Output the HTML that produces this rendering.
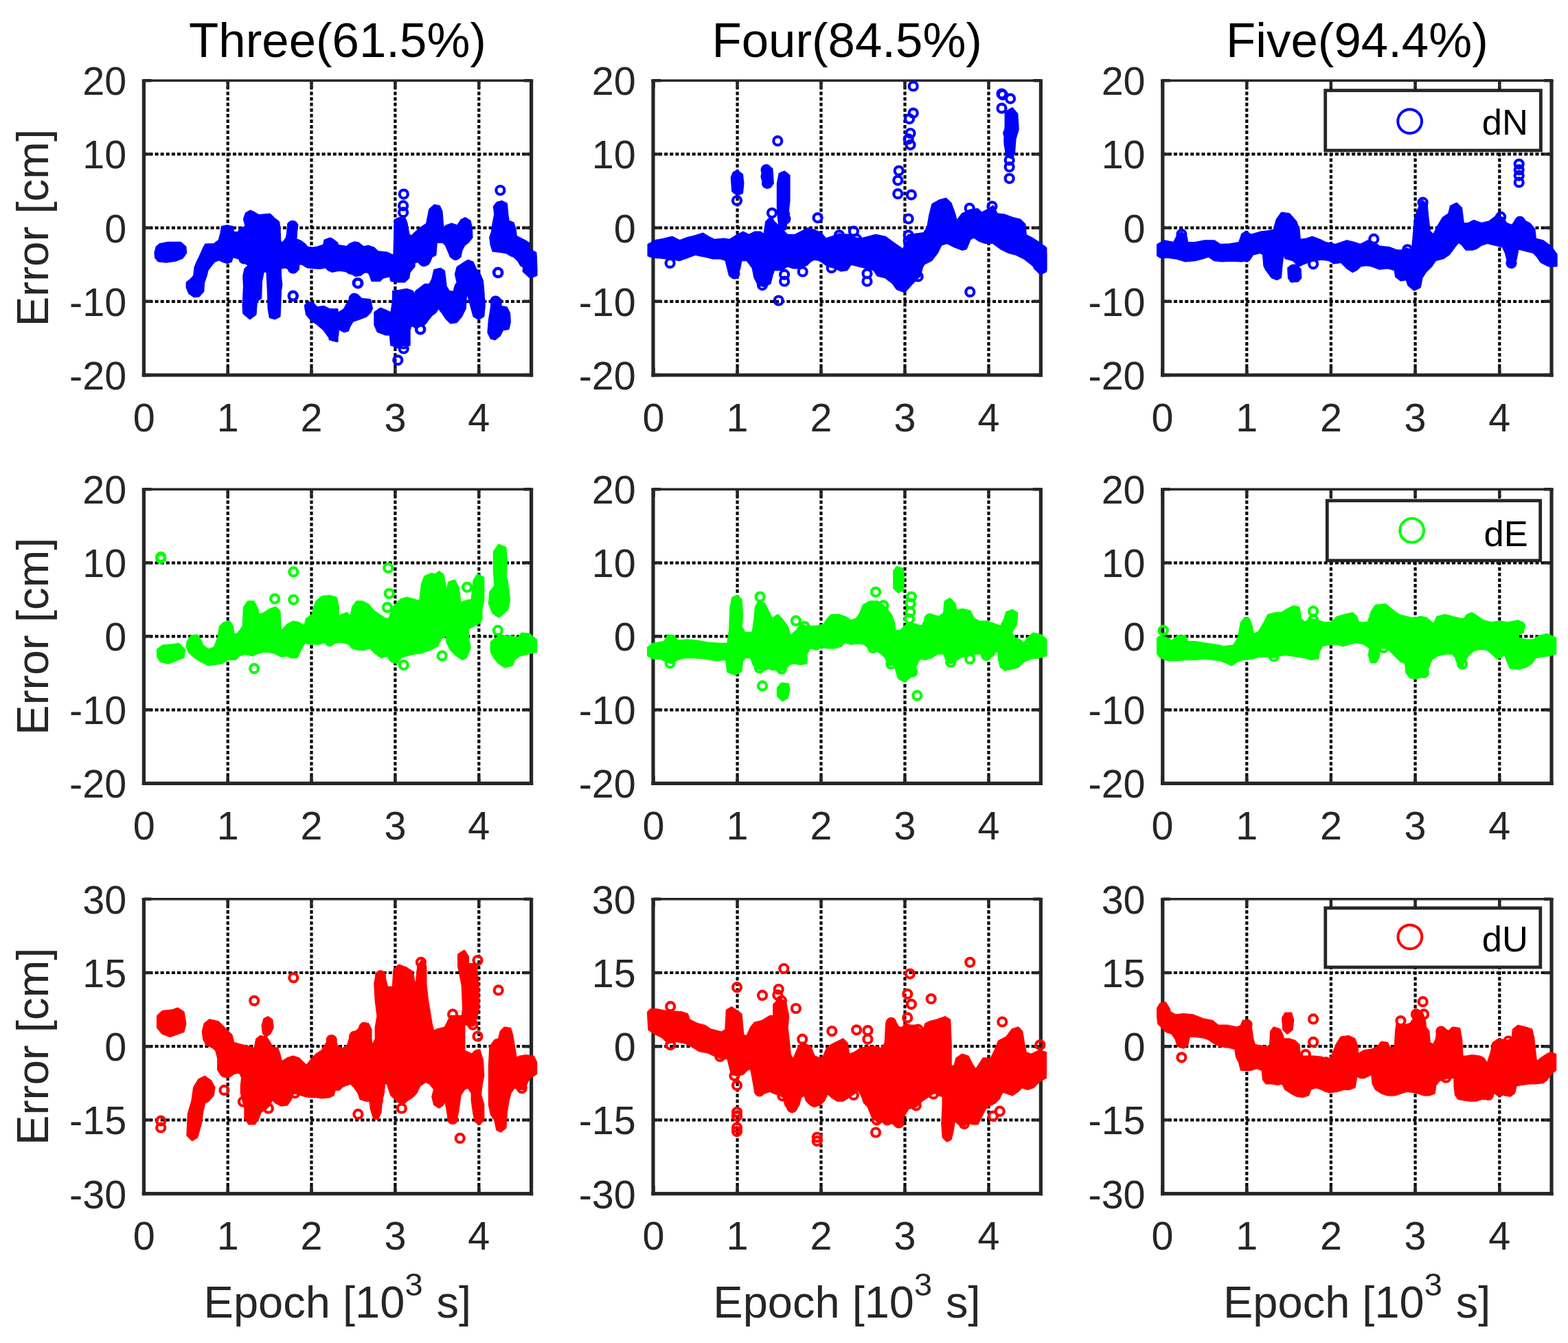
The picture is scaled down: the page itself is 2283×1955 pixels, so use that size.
<!DOCTYPE html>
<html><head><meta charset="utf-8"><title>Error plots</title>
<style>html,body{margin:0;padding:0;background:#fff;width:2283px;height:1955px;overflow:hidden}
svg text{font-family:'Liberation Sans', Arial, Helvetica, sans-serif}</style></head>
<body>
<svg width="2283" height="1955" viewBox="0 0 2283 1955" style="position:absolute;left:0;top:0">
<rect x="0" y="0" width="2283" height="1955" fill="#ffffff"/>
<clipPath id="clip00"><rect x="200.4" y="108.2" width="582.2" height="446.8"/></clipPath>
<path d="M331.7 117.2V546.0 M453.5 117.2V546.0 M575.4 117.2V546.0 M697.3 117.2V546.0 M209.4 438.8H773.6 M209.4 331.6H773.6 M209.4 224.4H773.6" stroke="#000" stroke-width="4.2" stroke-dasharray="5 3.1" fill="none"/>
<path d="M209.8 546.0v-11M209.8 117.2v11M331.7 546.0v-11M331.7 117.2v11M453.5 546.0v-11M453.5 117.2v11M575.4 546.0v-11M575.4 117.2v11M697.3 546.0v-11M697.3 117.2v11M209.4 546.0h11M773.6 546.0h-11M209.4 438.8h11M773.6 438.8h-11M209.4 331.6h11M773.6 331.6h-11M209.4 224.4h11M773.6 224.4h-11M209.4 117.2h11M773.6 117.2h-11" stroke="#262626" stroke-width="4.4" fill="none"/>
<path d="M206.8 117.2H776.2" stroke="#262626" stroke-width="3.6"/>
<path d="M206.8 546.0H776.2" stroke="#262626" stroke-width="5.2"/>
<path d="M209.4 115.4V548.6M773.6 115.4V548.6" stroke="#262626" stroke-width="5.2"/>
<g clip-path="url(#clip00)" fill="#0000ff" stroke="#0000ff">
<path d="M225.9,368.0 228.0,359.6 232.9,355.4 244.8,353.3 263.0,353.3 270.0,359.6 270.7,368.0 265.8,375.0 256.0,379.2 242.0,381.3 230.8,379.9 226.6,375.0Z" stroke-width="3" stroke-linejoin="round"/>
<path d="M272.1,411.4 278.4,406.5 282.6,401.6 284.0,389.0 287.5,380.6 291.0,373.6 296.6,361.0 299.4,356.1 312.0,355.4 319.0,349.8 321.8,340.0 323.2,330.2 330.2,328.8 338.6,330.2 340.0,338.6 347.0,338.6 349.8,333.0 358.2,330.2 355.4,319.0 358.2,310.6 364.5,307.1 369.3,309.2 376.3,313.4 393.1,312.0 398.7,317.6 405.7,323.2 407.1,333.0 407.8,348.4 408.5,354.0 412.7,352.6 416.9,347.0 418.3,341.4 419.7,326.0 426.7,323.9 433.0,327.4 431.6,337.2 430.9,348.4 437.9,351.2 443.5,355.4 447.7,360.3 456.1,361.0 463.1,359.6 471.5,356.8 472.9,349.8 478.5,347.7 485.5,349.8 491.1,354.0 491.1,393.2 484.1,395.3 478.5,393.2 474.3,389.0 465.9,390.4 454.7,389.7 447.7,389.0 440.7,384.8 435.1,383.4 434.4,391.8 427.4,395.3 420.4,391.1 415.5,389.0 408.5,390.4 408.5,401.6 409.9,414.2 408.5,424.0 407.8,444.9 407.1,460.3 400.1,463.8 393.1,461.7 391.0,449.1 390.3,424.0 388.9,396.0 384.7,394.6 383.3,396.0 380.5,410.0 379.8,433.8 373.5,437.9 372.1,457.5 363.8,463.8 354.7,456.1 354.0,444.9 355.4,417.0 354.7,401.6 356.8,391.8 362.4,386.2 354.0,380.6 348.4,376.4 338.6,373.6 336.5,380.6 330.9,382.7 324.6,380.6 319.0,377.8 312.0,380.6 306.4,387.6 302.2,393.2 300.1,401.6 296.6,411.4 295.9,424.0 289.6,431.0 282.6,431.7 275.6,426.8 272.1,418.4Z" stroke-width="3" stroke-linejoin="round"/>
<path d="M444.2,444.9 449.1,440.0 456.1,442.1 461.7,447.7 471.5,446.3 479.9,450.5 491.1,450.5 491.1,496.7 484.1,495.3 478.5,489.7 471.5,479.9 461.7,471.5 453.3,465.9 446.3,457.5Z" stroke-width="3" stroke-linejoin="round"/>
<circle cx="426.7" cy="431.0" r="6.0" fill="none" stroke-width="4.2"/>
<circle cx="426.7" cy="390.4" r="6.0" fill="none" stroke-width="4.2"/>
<circle cx="355.4" cy="376.4" r="6.0" fill="none" stroke-width="4.2"/>
<circle cx="426.0" cy="328.8" r="6.0" fill="none" stroke-width="4.2"/>
<path d="M480.0,347.0 484.2,348.4 488.4,356.8 505.2,359.6 509.4,355.4 516.4,352.6 522.0,354.0 529.0,359.6 536.0,358.2 544.4,361.0 550.0,366.6 564.0,368.0 569.6,370.8 573.8,372.2 575.2,320.4 580.8,317.6 589.2,317.6 592.0,324.6 593.4,333.0 595.5,342.8 600.4,343.5 603.2,340.0 613.0,331.6 617.2,328.8 621.4,326.0 625.6,305.0 632.6,298.7 639.6,300.1 643.1,307.8 644.5,326.0 646.6,337.2 649.3,328.8 657.7,326.0 666.1,328.8 671.7,320.4 677.3,317.6 684.3,321.8 686.4,331.6 687.1,345.6 681.5,352.6 675.9,356.8 671.7,365.2 670.3,373.6 663.3,376.4 656.3,373.6 653.5,366.6 649.3,356.8 645.2,352.6 635.4,352.6 634.0,370.8 628.4,373.6 625.6,380.6 622.8,384.8 613.0,384.8 608.8,380.6 603.2,382.0 603.2,387.6 596.2,396.0 594.8,404.4 589.2,410.0 578.0,410.0 569.6,408.6 568.2,401.6 557.0,404.4 552.8,408.6 541.6,408.6 538.8,400.2 536.0,396.0 530.4,396.0 524.8,400.2 517.8,401.6 513.6,398.8 508.0,397.4 503.8,394.6 494.0,393.2 485.6,394.6 480.0,393.2Z" stroke-width="3" stroke-linejoin="round"/>
<path d="M716.5,337.2 717.9,326.0 720.7,312.0 719.3,300.8 723.5,295.2 730.5,293.1 737.5,296.6 738.9,312.0 740.3,321.8 747.3,324.6 750.1,333.0 751.5,344.2 759.9,348.4 765.5,351.2 770.0,354.0 770.0,390.4 765.5,390.4 758.5,386.2 754.3,379.2 748.7,373.6 744.5,372.2 737.5,368.0 729.1,366.6 717.9,365.2 715.1,356.8 713.7,345.6Z" stroke-width="3" stroke-linejoin="round"/>
<path d="M480.0,451.9 485.6,450.5 491.2,454.7 492.6,472.9 491.9,488.3 485.6,495.3 480.0,493.9Z" stroke-width="3" stroke-linejoin="round"/>
<path d="M494.0,454.7 501.0,450.5 508.0,437.9 512.2,431.0 520.6,429.6 526.2,435.2 538.8,436.6 541.6,449.1 538.8,454.7 533.2,460.3 522.0,464.5 513.6,467.3 509.4,474.3 506.6,481.3 501.0,482.7 495.4,479.9 492.6,472.9Z" stroke-width="3" stroke-linejoin="round"/>
<path d="M545.8,454.7 554.2,449.1 561.2,451.9 569.6,456.1 572.4,437.9 572.4,424.0 580.8,423.3 592.0,421.2 600.4,424.0 603.2,429.6 606.0,424.0 618.6,414.2 625.6,414.2 629.8,405.8 632.6,393.2 641.0,391.1 646.6,394.6 649.3,417.0 653.5,424.0 660.5,425.4 663.3,415.6 666.1,411.4 663.3,398.8 666.1,389.0 674.5,383.4 681.5,379.2 688.5,382.0 692.7,391.8 698.3,398.8 702.5,408.6 703.9,424.0 705.3,444.9 703.9,460.3 696.9,464.5 689.9,460.3 685.7,444.9 681.5,429.6 678.7,429.6 677.3,449.1 671.7,460.3 664.7,468.7 656.3,470.1 649.3,463.1 643.8,454.7 638.2,447.7 634.0,454.7 628.4,458.9 622.8,465.9 618.6,471.5 611.6,474.3 606.0,477.1 599.0,472.9 596.2,479.9 596.2,502.3 569.6,502.3 568.2,486.9 561.2,486.9 550.0,482.7 545.8,472.9Z" stroke-width="3" stroke-linejoin="round"/>
<path d="M712.3,465.9 715.1,449.1 716.5,436.6 722.1,432.4 729.1,436.6 729.1,446.3 737.5,447.7 741.7,456.1 742.4,468.7 740.3,478.5 731.9,479.9 727.7,488.3 720.7,493.9 715.1,492.5 710.9,484.1Z" stroke-width="3" stroke-linejoin="round"/>
<circle cx="728.4" cy="277.0" r="6.0" fill="none" stroke-width="4.2"/>
<circle cx="724.9" cy="396.7" r="6.0" fill="none" stroke-width="4.2"/>
<circle cx="587.8" cy="282.6" r="6.0" fill="none" stroke-width="4.2"/>
<circle cx="587.1" cy="299.4" r="6.0" fill="none" stroke-width="4.2"/>
<circle cx="587.1" cy="309.2" r="6.0" fill="none" stroke-width="4.2"/>
<circle cx="520.6" cy="412.1" r="6.0" fill="none" stroke-width="4.2"/>
<circle cx="663.3" cy="370.8" r="6.0" fill="none" stroke-width="4.2"/>
<circle cx="612.3" cy="479.2" r="6.0" fill="none" stroke-width="4.2"/>
<circle cx="721.4" cy="438.6" r="6.0" fill="none" stroke-width="4.2"/>
<circle cx="579.3" cy="524.3" r="6.0" fill="none" stroke-width="4.2"/>
<circle cx="587.7" cy="507.5" r="6.0" fill="none" stroke-width="4.2"/>
<circle cx="587.7" cy="500.5" r="6.0" fill="none" stroke-width="4.2"/>
<circle cx="577.9" cy="499.1" r="6.0" fill="none" stroke-width="4.2"/>
<circle cx="576.5" cy="487.9" r="6.0" fill="none" stroke-width="4.2"/>
<circle cx="577.9" cy="476.7" r="6.0" fill="none" stroke-width="4.2"/>
<circle cx="587.7" cy="482.3" r="6.0" fill="none" stroke-width="4.2"/>
<circle cx="426.7" cy="430.5" r="6.0" fill="none" stroke-width="4.2"/>
<circle cx="426.7" cy="388.5" r="6.0" fill="none" stroke-width="4.2"/>
<circle cx="355.4" cy="374.5" r="6.0" fill="none" stroke-width="4.2"/>
<circle cx="521.4" cy="412.3" r="6.0" fill="none" stroke-width="4.2"/>
<circle cx="515.8" cy="434.7" r="6.0" fill="none" stroke-width="4.2"/>
<circle cx="451.9" cy="447.3" r="6.0" fill="none" stroke-width="4.2"/>
<circle cx="612.0" cy="479.5" r="6.0" fill="none" stroke-width="4.2"/>
<circle cx="617.1" cy="380.1" r="6.0" fill="none" stroke-width="4.2"/>
<circle cx="663.3" cy="370.3" r="6.0" fill="none" stroke-width="4.2"/>
<circle cx="725.4" cy="396.9" r="6.0" fill="none" stroke-width="4.2"/>
<circle cx="722.1" cy="438.9" r="6.0" fill="none" stroke-width="4.2"/>
<path d="M765.0,360.0 780.0,368.0 782.0,400.0 772.0,404.0 762.0,395.0Z" stroke-width="3" stroke-linejoin="round"/>
</g>
<text x="184.2" y="567.0" font-size="57.5" fill="#262626" text-anchor="end">-20</text>
<text x="184.2" y="459.8" font-size="57.5" fill="#262626" text-anchor="end">-10</text>
<text x="184.2" y="352.6" font-size="57.5" fill="#262626" text-anchor="end">0</text>
<text x="184.2" y="245.4" font-size="57.5" fill="#262626" text-anchor="end">10</text>
<text x="184.2" y="138.2" font-size="57.5" fill="#262626" text-anchor="end">20</text>
<text x="209.8" y="627.6" font-size="57.5" fill="#262626" text-anchor="middle">0</text>
<text x="331.7" y="627.6" font-size="57.5" fill="#262626" text-anchor="middle">1</text>
<text x="453.5" y="627.6" font-size="57.5" fill="#262626" text-anchor="middle">2</text>
<text x="575.4" y="627.6" font-size="57.5" fill="#262626" text-anchor="middle">3</text>
<text x="697.3" y="627.6" font-size="57.5" fill="#262626" text-anchor="middle">4</text>
<clipPath id="clip01"><rect x="942.0" y="108.2" width="582.4000000000001" height="446.8"/></clipPath>
<path d="M1073.6 117.2V546.0 M1195.5 117.2V546.0 M1317.5 117.2V546.0 M1439.5 117.2V546.0 M951.0 438.8H1515.4 M951.0 331.6H1515.4 M951.0 224.4H1515.4" stroke="#000" stroke-width="4.2" stroke-dasharray="5 3.1" fill="none"/>
<path d="M951.6 546.0v-11M951.6 117.2v11M1073.6 546.0v-11M1073.6 117.2v11M1195.5 546.0v-11M1195.5 117.2v11M1317.5 546.0v-11M1317.5 117.2v11M1439.5 546.0v-11M1439.5 117.2v11M951.0 546.0h11M1515.4 546.0h-11M951.0 438.8h11M1515.4 438.8h-11M951.0 331.6h11M1515.4 331.6h-11M951.0 224.4h11M1515.4 224.4h-11M951.0 117.2h11M1515.4 117.2h-11" stroke="#262626" stroke-width="4.4" fill="none"/>
<path d="M948.4 117.2H1518.0" stroke="#262626" stroke-width="3.6"/>
<path d="M948.4 546.0H1518.0" stroke="#262626" stroke-width="5.2"/>
<path d="M951.0 115.4V548.6M1515.4 115.4V548.6" stroke="#262626" stroke-width="5.2"/>
<g clip-path="url(#clip01)" fill="#0000ff" stroke="#0000ff">
<path d="M944.8,356.3 953.2,350.7 967.2,347.9 978.4,345.1 989.6,350.7 1000.8,346.5 1012.0,343.7 1023.2,340.1 1031.6,345.1 1040.0,349.3 1054.0,347.9 1062.4,349.3 1073.6,342.3 1082.0,338.1 1090.4,342.3 1098.8,338.1 1107.2,338.1 1112.8,342.3 1115.6,322.7 1122.6,315.7 1126.7,322.7 1137.9,333.9 1146.3,342.3 1157.5,342.3 1168.7,336.7 1177.1,332.5 1185.5,335.3 1195.3,339.5 1202.3,347.9 1210.7,345.1 1221.9,340.9 1235.9,342.3 1244.3,346.5 1252.7,347.9 1263.9,345.1 1275.1,342.3 1289.1,345.1 1300.3,353.5 1314.3,363.3 1318.5,361.9 1322.7,342.3 1333.9,340.9 1345.1,339.5 1350.7,331.1 1353.5,314.3 1357.7,297.5 1367.5,292.0 1377.3,289.2 1384.3,296.1 1389.9,311.5 1392.7,322.7 1401.1,311.5 1412.3,305.9 1423.5,304.5 1429.1,310.1 1437.5,305.9 1445.9,300.3 1451.5,311.5 1462.7,312.9 1473.9,317.1 1485.1,319.9 1492.1,326.9 1493.5,342.3 1501.8,346.5 1513.0,353.5 1524.2,361.9 1524.2,392.7 1513.0,395.5 1501.8,384.3 1490.7,375.9 1479.5,370.3 1468.3,367.5 1457.1,361.9 1445.9,353.5 1434.7,353.5 1426.3,350.7 1417.9,345.1 1412.3,347.9 1406.7,361.9 1401.1,363.3 1389.9,359.1 1378.7,353.5 1370.3,356.3 1364.7,367.5 1356.3,378.7 1345.1,384.3 1342.3,389.9 1339.5,401.1 1328.3,412.3 1317.1,424.9 1305.9,420.7 1300.3,412.3 1289.1,403.9 1277.9,401.1 1272.3,392.7 1261.1,389.9 1249.9,387.1 1238.7,384.3 1233.1,392.7 1224.7,394.1 1216.3,389.9 1205.1,387.1 1193.9,378.7 1185.5,377.3 1179.9,380.1 1174.3,385.7 1163.1,389.9 1154.7,389.9 1146.3,387.1 1137.9,392.7 1126.7,392.7 1124.0,401.1 1121.2,412.3 1112.8,416.5 1104.4,415.1 1098.8,403.9 1096.0,389.9 1087.6,378.7 1079.2,378.7 1076.4,392.7 1070.8,401.1 1062.4,401.1 1059.6,389.9 1056.8,378.7 1048.4,375.9 1037.2,375.9 1026.0,373.1 1012.0,370.3 1000.8,374.5 989.6,378.7 981.2,377.3 970.0,375.9 956.0,374.5 946.2,373.1Z" stroke-width="3" stroke-linejoin="round"/>
<path d="M1132.3,266.8 1135.1,252.8 1142.1,250.0 1149.1,255.6 1149.1,292.0 1146.3,317.1 1143.5,333.9 1135.1,333.9 1132.3,305.9Z" stroke-width="3" stroke-linejoin="round"/>
<path d="M1065.2,258.4 1068.0,251.4 1073.6,248.6 1080.6,254.2 1082.0,266.8 1080.6,280.8 1073.6,283.6 1066.6,278.0Z" stroke-width="3" stroke-linejoin="round"/>
<path d="M1110.0,247.2 1115.6,241.6 1124.0,245.8 1125.4,266.8 1121.2,272.4 1112.8,271.0 1110.0,261.2Z" stroke-width="3" stroke-linejoin="round"/>
<path d="M1464.1,163.2 1473.9,157.6 1480.9,166.0 1482.3,188.4 1478.1,202.4 1476.7,222.0 1473.9,230.4 1465.5,227.6 1462.7,205.2 1464.1,182.8Z" stroke-width="3" stroke-linejoin="round"/>
<circle cx="1073.0" cy="275.2" r="6.0" fill="none" stroke-width="4.2"/>
<circle cx="1073.0" cy="292.0" r="6.0" fill="none" stroke-width="4.2"/>
<circle cx="1115.6" cy="247.2" r="6.0" fill="none" stroke-width="4.2"/>
<circle cx="1115.6" cy="257.0" r="6.0" fill="none" stroke-width="4.2"/>
<circle cx="1117.0" cy="266.8" r="6.0" fill="none" stroke-width="4.2"/>
<circle cx="1132.3" cy="205.2" r="6.0" fill="none" stroke-width="4.2"/>
<circle cx="1124.0" cy="310.1" r="6.0" fill="none" stroke-width="4.2"/>
<circle cx="1142.1" cy="311.5" r="6.0" fill="none" stroke-width="4.2"/>
<circle cx="1143.5" cy="318.5" r="6.0" fill="none" stroke-width="4.2"/>
<circle cx="1190.6" cy="317.1" r="6.0" fill="none" stroke-width="4.2"/>
<circle cx="1221.9" cy="342.3" r="6.0" fill="none" stroke-width="4.2"/>
<circle cx="1242.9" cy="336.7" r="6.0" fill="none" stroke-width="4.2"/>
<circle cx="1247.1" cy="347.9" r="6.0" fill="none" stroke-width="4.2"/>
<circle cx="975.6" cy="382.9" r="6.0" fill="none" stroke-width="4.2"/>
<circle cx="1069.4" cy="398.3" r="6.0" fill="none" stroke-width="4.2"/>
<circle cx="1110.0" cy="415.1" r="6.0" fill="none" stroke-width="4.2"/>
<circle cx="1142.1" cy="399.7" r="6.0" fill="none" stroke-width="4.2"/>
<circle cx="1142.1" cy="409.5" r="6.0" fill="none" stroke-width="4.2"/>
<circle cx="1168.7" cy="395.5" r="6.0" fill="none" stroke-width="4.2"/>
<circle cx="1133.7" cy="437.5" r="6.0" fill="none" stroke-width="4.2"/>
<circle cx="1262.5" cy="398.3" r="6.0" fill="none" stroke-width="4.2"/>
<circle cx="1262.5" cy="409.5" r="6.0" fill="none" stroke-width="4.2"/>
<circle cx="1336.7" cy="402.5" r="6.0" fill="none" stroke-width="4.2"/>
<circle cx="1210.7" cy="389.9" r="6.0" fill="none" stroke-width="4.2"/>
<circle cx="1412.3" cy="424.9" r="6.0" fill="none" stroke-width="4.2"/>
<circle cx="1411.7" cy="303.1" r="6.0" fill="none" stroke-width="4.2"/>
<circle cx="1444.5" cy="300.3" r="6.0" fill="none" stroke-width="4.2"/>
<circle cx="1322.7" cy="318.5" r="6.0" fill="none" stroke-width="4.2"/>
<circle cx="1322.7" cy="342.3" r="6.0" fill="none" stroke-width="4.2"/>
<circle cx="1322.7" cy="350.7" r="6.0" fill="none" stroke-width="4.2"/>
<circle cx="1322.7" cy="361.9" r="6.0" fill="none" stroke-width="4.2"/>
<circle cx="1308.7" cy="248.6" r="6.0" fill="none" stroke-width="4.2"/>
<circle cx="1307.3" cy="262.6" r="6.0" fill="none" stroke-width="4.2"/>
<circle cx="1307.3" cy="282.2" r="6.0" fill="none" stroke-width="4.2"/>
<circle cx="1326.9" cy="283.6" r="6.0" fill="none" stroke-width="4.2"/>
<circle cx="1325.5" cy="210.8" r="6.0" fill="none" stroke-width="4.2"/>
<circle cx="1325.5" cy="194.0" r="6.0" fill="none" stroke-width="4.2"/>
<circle cx="1324.1" cy="173.0" r="6.0" fill="none" stroke-width="4.2"/>
<circle cx="1329.7" cy="164.6" r="6.0" fill="none" stroke-width="4.2"/>
<circle cx="1329.7" cy="125.4" r="6.0" fill="none" stroke-width="4.2"/>
<circle cx="1322.7" cy="202.4" r="6.0" fill="none" stroke-width="4.2"/>
<circle cx="1458.5" cy="136.6" r="6.0" fill="none" stroke-width="4.2"/>
<circle cx="1459.9" cy="138.0" r="6.0" fill="none" stroke-width="4.2"/>
<circle cx="1471.1" cy="143.6" r="6.0" fill="none" stroke-width="4.2"/>
<circle cx="1458.5" cy="157.6" r="6.0" fill="none" stroke-width="4.2"/>
<circle cx="1469.7" cy="233.2" r="6.0" fill="none" stroke-width="4.2"/>
<circle cx="1469.7" cy="243.0" r="6.0" fill="none" stroke-width="4.2"/>
<circle cx="1469.7" cy="259.8" r="6.0" fill="none" stroke-width="4.2"/>
<circle cx="1469.7" cy="210.8" r="6.0" fill="none" stroke-width="4.2"/>
<circle cx="1468.3" cy="194.0" r="6.0" fill="none" stroke-width="4.2"/>
<path d="M1508.0,352.0 1520.0,360.0 1524.0,372.0 1523.0,395.0 1515.0,399.0 1506.0,390.0Z" stroke-width="3" stroke-linejoin="round"/>
<path d="M944.0,356.0 956.0,350.0 956.0,375.0 944.0,372.0Z" stroke-width="3" stroke-linejoin="round"/>
</g>
<text x="925.8" y="567.0" font-size="57.5" fill="#262626" text-anchor="end">-20</text>
<text x="925.8" y="459.8" font-size="57.5" fill="#262626" text-anchor="end">-10</text>
<text x="925.8" y="352.6" font-size="57.5" fill="#262626" text-anchor="end">0</text>
<text x="925.8" y="245.4" font-size="57.5" fill="#262626" text-anchor="end">10</text>
<text x="925.8" y="138.2" font-size="57.5" fill="#262626" text-anchor="end">20</text>
<text x="951.6" y="627.6" font-size="57.5" fill="#262626" text-anchor="middle">0</text>
<text x="1073.6" y="627.6" font-size="57.5" fill="#262626" text-anchor="middle">1</text>
<text x="1195.5" y="627.6" font-size="57.5" fill="#262626" text-anchor="middle">2</text>
<text x="1317.5" y="627.6" font-size="57.5" fill="#262626" text-anchor="middle">3</text>
<text x="1439.5" y="627.6" font-size="57.5" fill="#262626" text-anchor="middle">4</text>
<clipPath id="clip02"><rect x="1683.8" y="108.2" width="584.2" height="446.8"/></clipPath>
<path d="M1815.3 117.2V546.0 M1937.9 117.2V546.0 M2060.6 117.2V546.0 M2183.3 117.2V546.0 M1692.8 438.8H2259.0 M1692.8 331.6H2259.0 M1692.8 224.4H2259.0" stroke="#000" stroke-width="4.2" stroke-dasharray="5 3.1" fill="none"/>
<path d="M1692.6 546.0v-11M1692.6 117.2v11M1815.3 546.0v-11M1815.3 117.2v11M1937.9 546.0v-11M1937.9 117.2v11M2060.6 546.0v-11M2060.6 117.2v11M2183.3 546.0v-11M2183.3 117.2v11M1692.8 546.0h11M2259.0 546.0h-11M1692.8 438.8h11M2259.0 438.8h-11M1692.8 331.6h11M2259.0 331.6h-11M1692.8 224.4h11M2259.0 224.4h-11M1692.8 117.2h11M2259.0 117.2h-11" stroke="#262626" stroke-width="4.4" fill="none"/>
<path d="M1690.2 117.2H2261.6" stroke="#262626" stroke-width="3.6"/>
<path d="M1690.2 546.0H2261.6" stroke="#262626" stroke-width="5.2"/>
<path d="M1692.8 115.4V548.6M2259.0 115.4V548.6" stroke="#262626" stroke-width="5.2"/>
<g clip-path="url(#clip02)" fill="#0000ff" stroke="#0000ff">
<path d="M1685.4,356.3 1695.2,350.7 1709.2,353.5 1714.8,342.3 1720.4,338.1 1727.4,345.1 1728.8,353.5 1740.0,353.5 1754.0,350.7 1768.0,350.7 1776.4,356.3 1790.4,355.8 1804.4,353.5 1808.6,340.9 1814.2,337.3 1821.2,342.3 1835.2,338.1 1846.4,336.7 1854.8,335.3 1859.0,319.9 1866.0,310.1 1877.1,311.5 1886.9,322.7 1891.1,333.9 1892.5,349.3 1902.3,347.9 1910.7,345.1 1921.9,349.3 1930.3,353.5 1944.3,356.3 1961.1,350.7 1972.3,353.5 1980.7,356.3 1991.9,350.7 2000.3,353.5 2008.7,359.1 2022.7,360.5 2033.9,364.7 2042.3,364.7 2047.9,361.9 2056.3,364.7 2060.5,317.1 2064.7,305.9 2070.3,292.0 2077.3,297.5 2078.7,314.3 2081.5,336.7 2087.1,342.3 2092.7,331.1 2101.1,317.1 2109.5,311.5 2112.3,300.3 2120.7,296.1 2127.7,303.1 2130.5,325.5 2137.5,325.5 2145.9,321.3 2157.1,325.5 2168.3,322.7 2179.5,314.3 2187.9,317.1 2193.5,325.5 2201.9,328.3 2207.5,319.9 2215.9,319.9 2227.1,325.5 2234.1,333.9 2235.5,347.9 2246.6,350.7 2257.8,359.1 2266.2,370.3 2266.2,387.1 2255.0,387.1 2243.8,381.5 2238.2,373.1 2232.7,367.5 2221.5,364.7 2210.3,361.9 2207.5,375.9 2204.7,387.1 2196.3,384.3 2192.1,367.5 2187.9,359.1 2176.7,356.3 2165.5,353.5 2157.1,356.3 2148.7,361.9 2143.1,363.3 2134.7,363.3 2129.1,356.3 2123.5,352.1 2117.9,359.1 2109.5,370.3 2101.1,375.9 2089.9,378.7 2084.3,387.1 2075.9,395.5 2070.3,403.9 2067.5,417.9 2059.1,422.1 2050.7,415.1 2047.9,406.7 2039.5,408.1 2032.5,402.5 2031.1,392.7 2019.9,389.9 2008.7,391.3 1997.5,387.1 1989.1,385.7 1980.7,387.1 1975.1,392.7 1969.5,395.5 1961.1,389.9 1952.7,381.5 1941.5,382.9 1935.9,378.7 1924.7,377.3 1913.5,378.7 1907.9,380.1 1896.7,384.3 1891.1,387.1 1882.7,378.7 1871.5,375.9 1868.7,364.7 1866.0,387.1 1864.6,403.9 1859.0,406.7 1852.0,403.9 1843.6,392.7 1840.8,387.1 1839.4,370.3 1835.2,367.5 1824.0,370.3 1818.4,378.7 1807.2,380.1 1793.2,379.3 1779.2,380.1 1768.0,378.7 1759.6,373.1 1751.2,375.9 1740.0,378.7 1726.0,380.1 1712.0,375.9 1700.8,374.5 1689.6,374.5 1685.4,371.7Z" stroke-width="3" stroke-linejoin="round"/>
<circle cx="1720.4" cy="340.9" r="6.0" fill="none" stroke-width="4.2"/>
<circle cx="2000.3" cy="347.9" r="6.0" fill="none" stroke-width="4.2"/>
<circle cx="2049.3" cy="363.3" r="6.0" fill="none" stroke-width="4.2"/>
<circle cx="1912.1" cy="384.3" r="6.0" fill="none" stroke-width="4.2"/>
<circle cx="1884.1" cy="392.7" r="6.0" fill="none" stroke-width="4.2"/>
<circle cx="1884.1" cy="402.5" r="6.0" fill="none" stroke-width="4.2"/>
<circle cx="2071.7" cy="294.7" r="6.0" fill="none" stroke-width="4.2"/>
<circle cx="2071.7" cy="310.1" r="6.0" fill="none" stroke-width="4.2"/>
<circle cx="2185.1" cy="315.7" r="6.0" fill="none" stroke-width="4.2"/>
<circle cx="2211.7" cy="238.8" r="6.0" fill="none" stroke-width="4.2"/>
<circle cx="2211.7" cy="247.2" r="6.0" fill="none" stroke-width="4.2"/>
<circle cx="2211.7" cy="255.6" r="6.0" fill="none" stroke-width="4.2"/>
<circle cx="2211.7" cy="265.4" r="6.0" fill="none" stroke-width="4.2"/>
<circle cx="2200.5" cy="382.9" r="6.0" fill="none" stroke-width="4.2"/>
<circle cx="2213.1" cy="322.7" r="6.0" fill="none" stroke-width="4.2"/>
<path d="M1875.7,390.4 1879.9,386.9 1888.3,387.6 1893.2,391.8 1893.9,404.4 1889.7,409.3 1879.9,410.0 1876.4,404.4Z" stroke-width="3" stroke-linejoin="round"/>
</g>
<text x="1667.6" y="567.0" font-size="57.5" fill="#262626" text-anchor="end">-20</text>
<text x="1667.6" y="459.8" font-size="57.5" fill="#262626" text-anchor="end">-10</text>
<text x="1667.6" y="352.6" font-size="57.5" fill="#262626" text-anchor="end">0</text>
<text x="1667.6" y="245.4" font-size="57.5" fill="#262626" text-anchor="end">10</text>
<text x="1667.6" y="138.2" font-size="57.5" fill="#262626" text-anchor="end">20</text>
<text x="1692.6" y="627.6" font-size="57.5" fill="#262626" text-anchor="middle">0</text>
<text x="1815.3" y="627.6" font-size="57.5" fill="#262626" text-anchor="middle">1</text>
<text x="1937.9" y="627.6" font-size="57.5" fill="#262626" text-anchor="middle">2</text>
<text x="2060.6" y="627.6" font-size="57.5" fill="#262626" text-anchor="middle">3</text>
<text x="2183.3" y="627.6" font-size="57.5" fill="#262626" text-anchor="middle">4</text>
<rect x="1929.7" y="131.7" width="313.7" height="87.3" fill="#fff" stroke="#262626" stroke-width="4.8"/>
<circle cx="2052.7" cy="176.6" r="17.4" fill="none" stroke="#0000ff" stroke-width="4"/>
<text x="2157.8" y="196.4" font-size="52.5" fill="#000">dN</text>
<clipPath id="clip10"><rect x="200.4" y="703.3" width="582.2" height="446.0"/></clipPath>
<path d="M331.7 712.3V1140.3 M453.5 712.3V1140.3 M575.4 712.3V1140.3 M697.3 712.3V1140.3 M209.4 1033.3H773.6 M209.4 926.3H773.6 M209.4 819.3H773.6" stroke="#000" stroke-width="4.2" stroke-dasharray="5 3.1" fill="none"/>
<path d="M209.8 1140.3v-11M209.8 712.3v11M331.7 1140.3v-11M331.7 712.3v11M453.5 1140.3v-11M453.5 712.3v11M575.4 1140.3v-11M575.4 712.3v11M697.3 1140.3v-11M697.3 712.3v11M209.4 1140.3h11M773.6 1140.3h-11M209.4 1033.3h11M773.6 1033.3h-11M209.4 926.3h11M773.6 926.3h-11M209.4 819.3h11M773.6 819.3h-11M209.4 712.3h11M773.6 712.3h-11" stroke="#262626" stroke-width="4.4" fill="none"/>
<path d="M206.8 712.3H776.2" stroke="#262626" stroke-width="3.6"/>
<path d="M206.8 1140.3H776.2" stroke="#262626" stroke-width="5.2"/>
<path d="M209.4 710.5V1142.9M773.6 710.5V1142.9" stroke="#262626" stroke-width="5.2"/>
<g clip-path="url(#clip10)" fill="#00ff00" stroke="#00ff00">
<path d="M229.4,945.7 236.4,940.1 250.4,938.7 260.2,937.3 268.6,945.7 267.2,956.9 256.0,961.1 244.8,965.3 233.6,962.5 229.4,955.5Z" stroke-width="3" stroke-linejoin="round"/>
<path d="M272.8,934.5 278.4,926.1 286.8,924.7 292.4,933.1 295.2,940.1 303.6,945.7 312.0,942.9 317.6,928.9 320.4,912.1 326.0,906.5 334.4,905.1 338.6,912.1 340.0,923.3 345.6,923.3 354.0,912.1 355.4,884.2 361.0,875.8 369.4,875.8 375.0,887.0 376.4,895.3 384.7,892.5 393.1,887.0 401.5,884.2 407.1,889.7 408.5,920.5 418.3,909.3 426.7,905.1 435.1,906.5 443.5,912.1 446.3,900.9 454.7,895.3 460.3,875.8 468.7,868.8 479.9,867.4 489.7,870.2 492.5,884.2 492.5,900.9 496.7,895.3 505.1,892.5 510.7,898.1 513.5,884.2 519.1,875.8 527.5,875.8 535.9,880.0 544.3,889.7 552.7,895.3 561.1,900.9 566.7,900.9 572.3,884.2 583.5,873.0 591.9,870.2 603.1,873.0 611.5,875.8 614.3,850.6 618.5,839.4 628.3,835.2 633.9,836.6 639.5,832.4 645.1,836.6 647.9,850.6 650.7,861.8 653.5,847.8 661.9,845.0 667.5,856.2 670.3,878.6 675.9,875.8 687.1,873.0 689.9,845.0 695.5,836.6 703.9,840.8 703.9,873.0 701.1,887.0 701.1,900.9 698.3,906.5 687.1,912.1 681.5,914.9 681.5,928.9 684.3,942.9 678.7,956.9 673.1,959.7 664.7,954.1 656.3,945.7 650.7,934.5 650.7,923.3 642.3,928.9 636.7,940.1 625.5,945.7 614.3,949.9 603.1,951.3 591.9,954.1 583.5,956.9 577.9,965.3 569.5,962.5 563.9,954.1 555.5,956.9 547.1,951.3 538.7,942.9 530.3,945.7 521.9,945.7 513.5,942.9 507.9,937.3 499.5,934.5 491.1,934.5 482.7,937.3 474.3,934.5 463.1,937.3 451.9,937.3 443.5,934.5 437.9,945.7 432.3,956.9 423.9,956.9 418.3,954.1 409.9,955.5 401.5,951.3 393.1,948.5 382.0,948.5 373.6,951.3 368.0,954.1 356.8,951.3 348.4,954.1 342.8,959.7 331.6,959.7 323.2,965.3 312.0,966.7 303.6,968.1 292.4,962.5 284.0,956.9 275.6,949.9 272.2,941.5Z" stroke-width="3" stroke-linejoin="round"/>
<path d="M719.3,803.0 726.3,793.2 736.1,797.4 737.5,817.0 736.1,839.4 738.9,850.6 741.7,873.0 738.9,887.0 726.3,898.1 717.9,892.5 712.3,878.6 713.7,861.8 720.7,853.4 719.3,831.0Z" stroke-width="3" stroke-linejoin="round"/>
<path d="M715.1,934.5 726.3,926.1 743.1,926.1 754.2,928.9 759.8,921.9 771.0,923.3 780.8,931.7 780.8,948.5 768.2,951.3 757.0,954.1 748.7,959.7 745.9,968.1 734.7,970.9 726.3,965.3 719.3,956.9 715.1,948.5Z" stroke-width="3" stroke-linejoin="round"/>
<circle cx="234.2" cy="812.8" r="6.0" fill="none" stroke-width="4.2"/>
<circle cx="234.2" cy="810.8" r="6.0" fill="none" stroke-width="4.2"/>
<circle cx="427.3" cy="832.4" r="6.0" fill="none" stroke-width="4.2"/>
<circle cx="427.3" cy="873.0" r="6.0" fill="none" stroke-width="4.2"/>
<circle cx="400.1" cy="871.6" r="6.0" fill="none" stroke-width="4.2"/>
<circle cx="370.2" cy="973.2" r="6.0" fill="none" stroke-width="4.2"/>
<circle cx="565.3" cy="826.8" r="6.0" fill="none" stroke-width="4.2"/>
<circle cx="566.7" cy="864.0" r="6.0" fill="none" stroke-width="4.2"/>
<circle cx="563.9" cy="884.2" r="6.0" fill="none" stroke-width="4.2"/>
<circle cx="587.7" cy="968.1" r="6.0" fill="none" stroke-width="4.2"/>
<circle cx="643.7" cy="954.7" r="6.0" fill="none" stroke-width="4.2"/>
<circle cx="680.1" cy="854.8" r="6.0" fill="none" stroke-width="4.2"/>
<circle cx="724.9" cy="917.7" r="6.0" fill="none" stroke-width="4.2"/>
<circle cx="731.9" cy="846.4" r="6.0" fill="none" stroke-width="4.2"/>
<circle cx="516.3" cy="937.3" r="6.0" fill="none" stroke-width="4.2"/>
<circle cx="479.9" cy="933.1" r="6.0" fill="none" stroke-width="4.2"/>
<circle cx="673.1" cy="951.3" r="6.0" fill="none" stroke-width="4.2"/>
</g>
<text x="184.2" y="1161.3" font-size="57.5" fill="#262626" text-anchor="end">-20</text>
<text x="184.2" y="1054.3" font-size="57.5" fill="#262626" text-anchor="end">-10</text>
<text x="184.2" y="947.3" font-size="57.5" fill="#262626" text-anchor="end">0</text>
<text x="184.2" y="840.3" font-size="57.5" fill="#262626" text-anchor="end">10</text>
<text x="184.2" y="733.3" font-size="57.5" fill="#262626" text-anchor="end">20</text>
<text x="209.8" y="1221.9" font-size="57.5" fill="#262626" text-anchor="middle">0</text>
<text x="331.7" y="1221.9" font-size="57.5" fill="#262626" text-anchor="middle">1</text>
<text x="453.5" y="1221.9" font-size="57.5" fill="#262626" text-anchor="middle">2</text>
<text x="575.4" y="1221.9" font-size="57.5" fill="#262626" text-anchor="middle">3</text>
<text x="697.3" y="1221.9" font-size="57.5" fill="#262626" text-anchor="middle">4</text>
<clipPath id="clip11"><rect x="942.0" y="703.3" width="582.4000000000001" height="446.0"/></clipPath>
<path d="M1073.6 712.3V1140.3 M1195.5 712.3V1140.3 M1317.5 712.3V1140.3 M1439.5 712.3V1140.3 M951.0 1033.3H1515.4 M951.0 926.3H1515.4 M951.0 819.3H1515.4" stroke="#000" stroke-width="4.2" stroke-dasharray="5 3.1" fill="none"/>
<path d="M951.6 1140.3v-11M951.6 712.3v11M1073.6 1140.3v-11M1073.6 712.3v11M1195.5 1140.3v-11M1195.5 712.3v11M1317.5 1140.3v-11M1317.5 712.3v11M1439.5 1140.3v-11M1439.5 712.3v11M951.0 1140.3h11M1515.4 1140.3h-11M951.0 1033.3h11M1515.4 1033.3h-11M951.0 926.3h11M1515.4 926.3h-11M951.0 819.3h11M1515.4 819.3h-11M951.0 712.3h11M1515.4 712.3h-11" stroke="#262626" stroke-width="4.4" fill="none"/>
<path d="M948.4 712.3H1518.0" stroke="#262626" stroke-width="3.6"/>
<path d="M948.4 1140.3H1518.0" stroke="#262626" stroke-width="5.2"/>
<path d="M951.0 710.5V1142.9M1515.4 710.5V1142.9" stroke="#262626" stroke-width="5.2"/>
<g clip-path="url(#clip11)" fill="#00ff00" stroke="#00ff00">
<path d="M943.4,942.9 950.4,937.3 967.2,934.5 972.8,924.7 981.2,926.1 986.8,933.1 1000.8,931.7 1014.8,933.1 1031.6,935.9 1048.4,937.3 1059.6,937.3 1062.4,917.7 1063.8,884.2 1066.6,870.2 1073.6,867.4 1079.2,873.0 1080.6,895.3 1079.2,912.1 1084.8,921.9 1096.0,920.5 1098.8,900.9 1100.2,884.2 1104.4,875.8 1112.8,878.6 1118.4,889.7 1124.0,900.9 1132.3,895.3 1137.9,900.9 1146.3,912.1 1150.5,926.1 1160.3,917.7 1165.9,909.3 1174.3,912.1 1188.3,912.1 1199.5,909.3 1205.1,900.9 1210.7,895.3 1221.9,895.3 1230.3,898.1 1238.7,903.7 1247.1,900.9 1252.7,892.5 1256.9,881.4 1266.7,875.8 1277.9,875.8 1289.1,884.2 1297.5,895.3 1301.7,906.5 1303.1,919.1 1311.5,917.7 1317.1,912.1 1322.7,906.5 1333.9,909.3 1342.3,912.1 1347.9,900.9 1356.3,895.3 1367.5,898.1 1374.5,892.5 1375.9,875.8 1382.9,871.6 1389.9,878.6 1392.7,889.7 1401.1,887.0 1412.3,889.7 1417.9,900.9 1426.3,905.1 1437.5,905.1 1445.9,907.9 1457.1,912.1 1462.7,900.9 1465.5,891.1 1473.9,888.4 1480.9,892.5 1479.5,909.3 1472.5,920.5 1476.7,928.9 1485.1,931.7 1490.7,937.3 1496.2,928.9 1504.6,921.9 1515.8,924.7 1524.2,931.7 1524.2,954.1 1513.0,956.9 1501.8,958.3 1490.7,962.5 1482.3,970.9 1471.1,973.7 1462.7,975.1 1457.1,970.9 1454.3,959.7 1454.3,948.5 1448.7,948.5 1445.9,954.1 1440.3,956.9 1434.7,955.5 1429.1,951.3 1420.7,951.3 1409.5,954.1 1398.3,956.9 1389.9,962.5 1384.3,965.3 1378.7,962.5 1374.5,951.3 1364.7,951.3 1356.3,956.9 1347.9,959.7 1339.5,958.3 1333.9,968.1 1329.7,982.1 1322.7,987.7 1317.1,991.9 1308.7,987.7 1305.9,979.3 1303.1,968.1 1294.7,968.1 1289.1,956.9 1283.5,951.3 1275.1,945.7 1266.7,944.3 1258.3,937.3 1249.9,935.9 1238.7,937.3 1230.3,934.5 1224.7,940.1 1216.3,942.9 1205.1,942.9 1196.7,941.5 1188.3,945.7 1179.9,942.9 1174.3,951.3 1174.3,965.3 1165.9,966.7 1154.7,965.3 1149.1,966.7 1143.5,973.7 1135.1,976.5 1126.7,973.7 1121.2,972.3 1112.8,975.1 1104.4,973.7 1097.4,968.1 1093.2,956.9 1084.8,956.9 1080.6,962.5 1079.2,976.5 1070.8,982.1 1059.6,977.9 1058.2,965.3 1056.8,959.7 1042.8,961.1 1026.0,958.3 1012.0,956.9 998.0,956.9 986.8,959.7 978.4,965.3 970.0,962.5 961.6,958.3 950.4,958.3 943.4,954.1Z" stroke-width="3" stroke-linejoin="round"/>
<path d="M1301.7,831.0 1305.9,825.4 1314.3,828.2 1315.7,845.0 1314.3,859.0 1307.3,861.8 1301.7,856.2Z" stroke-width="3" stroke-linejoin="round"/>
<path d="M1132.3,1001.7 1137.9,994.7 1147.7,996.1 1149.1,1004.5 1146.3,1015.7 1139.3,1019.9 1132.3,1012.9Z" stroke-width="3" stroke-linejoin="round"/>
<circle cx="1326.9" cy="868.8" r="6.0" fill="none" stroke-width="4.2"/>
<circle cx="1325.5" cy="878.6" r="6.0" fill="none" stroke-width="4.2"/>
<circle cx="1325.5" cy="891.1" r="6.0" fill="none" stroke-width="4.2"/>
<circle cx="1324.1" cy="900.9" r="6.0" fill="none" stroke-width="4.2"/>
<circle cx="1110.0" cy="998.4" r="6.0" fill="none" stroke-width="4.2"/>
<circle cx="1335.3" cy="1012.4" r="6.0" fill="none" stroke-width="4.2"/>
<circle cx="1275.1" cy="861.8" r="6.0" fill="none" stroke-width="4.2"/>
<circle cx="1286.3" cy="881.4" r="6.0" fill="none" stroke-width="4.2"/>
<circle cx="1158.9" cy="903.7" r="6.0" fill="none" stroke-width="4.2"/>
<circle cx="1171.5" cy="912.1" r="6.0" fill="none" stroke-width="4.2"/>
<circle cx="1106.6" cy="868.8" r="6.0" fill="none" stroke-width="4.2"/>
<circle cx="975.6" cy="965.3" r="6.0" fill="none" stroke-width="4.2"/>
<circle cx="1412.3" cy="959.2" r="6.0" fill="none" stroke-width="4.2"/>
<circle cx="1297.5" cy="966.7" r="6.0" fill="none" stroke-width="4.2"/>
<circle cx="1270.9" cy="942.9" r="6.0" fill="none" stroke-width="4.2"/>
<circle cx="1125.4" cy="968.1" r="6.0" fill="none" stroke-width="4.2"/>
<circle cx="1137.9" cy="973.7" r="6.0" fill="none" stroke-width="4.2"/>
<circle cx="1105.8" cy="972.3" r="6.0" fill="none" stroke-width="4.2"/>
<circle cx="1070.8" cy="884.2" r="6.0" fill="none" stroke-width="4.2"/>
<circle cx="1384.3" cy="963.9" r="6.0" fill="none" stroke-width="4.2"/>
<circle cx="1353.5" cy="900.9" r="6.0" fill="none" stroke-width="4.2"/>
<circle cx="1436.1" cy="954.1" r="6.0" fill="none" stroke-width="4.2"/>
<circle cx="1328.3" cy="977.9" r="6.0" fill="none" stroke-width="4.2"/>
</g>
<text x="925.8" y="1161.3" font-size="57.5" fill="#262626" text-anchor="end">-20</text>
<text x="925.8" y="1054.3" font-size="57.5" fill="#262626" text-anchor="end">-10</text>
<text x="925.8" y="947.3" font-size="57.5" fill="#262626" text-anchor="end">0</text>
<text x="925.8" y="840.3" font-size="57.5" fill="#262626" text-anchor="end">10</text>
<text x="925.8" y="733.3" font-size="57.5" fill="#262626" text-anchor="end">20</text>
<text x="951.6" y="1221.9" font-size="57.5" fill="#262626" text-anchor="middle">0</text>
<text x="1073.6" y="1221.9" font-size="57.5" fill="#262626" text-anchor="middle">1</text>
<text x="1195.5" y="1221.9" font-size="57.5" fill="#262626" text-anchor="middle">2</text>
<text x="1317.5" y="1221.9" font-size="57.5" fill="#262626" text-anchor="middle">3</text>
<text x="1439.5" y="1221.9" font-size="57.5" fill="#262626" text-anchor="middle">4</text>
<clipPath id="clip12"><rect x="1683.8" y="703.3" width="584.2" height="446.0"/></clipPath>
<path d="M1815.3 712.3V1140.3 M1937.9 712.3V1140.3 M2060.6 712.3V1140.3 M2183.3 712.3V1140.3 M1692.8 1033.3H2259.0 M1692.8 926.3H2259.0 M1692.8 819.3H2259.0" stroke="#000" stroke-width="4.2" stroke-dasharray="5 3.1" fill="none"/>
<path d="M1692.6 1140.3v-11M1692.6 712.3v11M1815.3 1140.3v-11M1815.3 712.3v11M1937.9 1140.3v-11M1937.9 712.3v11M2060.6 1140.3v-11M2060.6 712.3v11M2183.3 1140.3v-11M2183.3 712.3v11M1692.8 1140.3h11M2259.0 1140.3h-11M1692.8 1033.3h11M2259.0 1033.3h-11M1692.8 926.3h11M2259.0 926.3h-11M1692.8 819.3h11M2259.0 819.3h-11M1692.8 712.3h11M2259.0 712.3h-11" stroke="#262626" stroke-width="4.4" fill="none"/>
<path d="M1690.2 712.3H2261.6" stroke="#262626" stroke-width="3.6"/>
<path d="M1690.2 1140.3H2261.6" stroke="#262626" stroke-width="5.2"/>
<path d="M1692.8 710.5V1142.9M2259.0 710.5V1142.9" stroke="#262626" stroke-width="5.2"/>
<g clip-path="url(#clip12)" fill="#00ff00" stroke="#00ff00">
<path d="M1685.4,928.9 1689.6,926.1 1698.0,928.9 1706.4,933.1 1714.8,926.1 1726.0,926.1 1728.8,934.5 1740.0,934.5 1756.8,937.3 1768.0,938.7 1782.0,941.5 1796.0,940.1 1803.0,928.9 1807.2,906.5 1812.8,899.5 1818.4,900.9 1822.6,912.1 1824.0,923.3 1832.4,920.5 1840.8,906.5 1846.4,895.3 1857.6,892.5 1866.0,892.5 1874.3,887.0 1882.7,882.8 1891.1,884.2 1893.9,900.9 1899.5,906.5 1907.9,900.9 1919.1,903.7 1927.5,906.5 1938.7,906.5 1947.1,898.1 1958.3,895.3 1969.5,892.5 1975.1,898.1 1977.9,906.5 1991.9,906.5 1997.5,889.7 2003.1,881.4 2017.1,880.0 2025.5,887.0 2036.7,895.3 2047.9,898.1 2059.1,900.9 2067.5,898.1 2075.9,899.5 2081.5,903.7 2087.1,909.3 2092.7,898.1 2103.9,895.3 2115.1,898.1 2126.3,900.9 2131.9,900.9 2136.1,895.3 2143.1,892.5 2151.5,898.1 2159.9,903.7 2171.1,906.5 2182.3,905.1 2196.3,906.5 2210.3,903.7 2218.7,909.3 2217.3,920.5 2210.3,923.3 2210.3,928.9 2221.5,931.7 2232.7,931.7 2241.0,926.1 2252.2,923.3 2264.8,928.9 2264.8,951.3 2255.0,954.1 2243.8,955.5 2235.5,956.9 2229.9,965.3 2221.5,970.9 2210.3,973.7 2199.1,972.3 2194.9,962.5 2190.7,951.3 2185.1,956.9 2179.5,958.3 2173.9,952.7 2165.5,945.7 2157.1,944.3 2148.7,945.7 2143.1,948.5 2137.5,954.1 2131.9,962.5 2129.1,969.5 2123.5,968.1 2119.3,956.9 2115.1,951.3 2106.7,951.3 2098.3,952.7 2092.7,954.1 2084.3,959.7 2078.7,973.7 2075.9,982.1 2070.3,984.9 2060.5,987.7 2053.5,986.3 2047.9,979.3 2046.5,965.3 2039.5,962.5 2033.9,956.9 2028.3,951.3 2022.7,945.7 2017.1,942.9 2008.7,942.9 2007.3,956.9 2003.1,963.9 1996.1,963.9 1993.3,954.1 1994.7,942.9 1986.3,937.3 1975.1,934.5 1963.9,937.3 1955.5,940.1 1947.1,937.3 1935.9,937.3 1924.7,940.1 1920.5,948.5 1919.1,958.3 1907.9,959.7 1899.5,956.9 1891.1,955.5 1879.9,954.1 1871.5,952.7 1863.2,954.1 1854.8,956.9 1846.4,955.5 1832.4,955.5 1824.0,958.3 1810.0,959.7 1801.6,962.5 1793.2,968.1 1787.6,965.3 1776.4,961.1 1765.2,959.7 1754.0,958.3 1740.0,959.7 1726.0,959.7 1712.0,961.1 1700.8,961.1 1689.6,956.9 1685.4,951.3Z" stroke-width="3" stroke-linejoin="round"/>
<circle cx="1693.8" cy="917.7" r="6.0" fill="none" stroke-width="4.2"/>
<circle cx="1912.1" cy="889.7" r="6.0" fill="none" stroke-width="4.2"/>
<circle cx="1912.1" cy="902.3" r="6.0" fill="none" stroke-width="4.2"/>
<circle cx="1899.5" cy="913.5" r="6.0" fill="none" stroke-width="4.2"/>
<circle cx="2073.1" cy="979.3" r="6.0" fill="none" stroke-width="4.2"/>
<circle cx="2129.1" cy="966.7" r="6.0" fill="none" stroke-width="4.2"/>
<circle cx="2213.1" cy="912.1" r="6.0" fill="none" stroke-width="4.2"/>
<circle cx="1854.8" cy="955.5" r="6.0" fill="none" stroke-width="4.2"/>
<circle cx="2014.3" cy="942.9" r="6.0" fill="none" stroke-width="4.2"/>
</g>
<text x="1667.6" y="1161.3" font-size="57.5" fill="#262626" text-anchor="end">-20</text>
<text x="1667.6" y="1054.3" font-size="57.5" fill="#262626" text-anchor="end">-10</text>
<text x="1667.6" y="947.3" font-size="57.5" fill="#262626" text-anchor="end">0</text>
<text x="1667.6" y="840.3" font-size="57.5" fill="#262626" text-anchor="end">10</text>
<text x="1667.6" y="733.3" font-size="57.5" fill="#262626" text-anchor="end">20</text>
<text x="1692.6" y="1221.9" font-size="57.5" fill="#262626" text-anchor="middle">0</text>
<text x="1815.3" y="1221.9" font-size="57.5" fill="#262626" text-anchor="middle">1</text>
<text x="1937.9" y="1221.9" font-size="57.5" fill="#262626" text-anchor="middle">2</text>
<text x="2060.6" y="1221.9" font-size="57.5" fill="#262626" text-anchor="middle">3</text>
<text x="2183.3" y="1221.9" font-size="57.5" fill="#262626" text-anchor="middle">4</text>
<rect x="1932.3" y="728.8" width="310.4" height="87.2" fill="#fff" stroke="#262626" stroke-width="4.8"/>
<circle cx="2055.7" cy="772.2" r="17.4" fill="none" stroke="#00ff00" stroke-width="4"/>
<text x="2160.5" y="794.6" font-size="52.5" fill="#000">dE</text>
<clipPath id="clip20"><rect x="200.4" y="1299.8" width="582.2" height="446.79999999999995"/></clipPath>
<path d="M331.7 1308.8V1737.6 M453.5 1308.8V1737.6 M575.4 1308.8V1737.6 M697.3 1308.8V1737.6 M209.4 1630.4H773.6 M209.4 1523.2H773.6 M209.4 1416.0H773.6" stroke="#000" stroke-width="4.2" stroke-dasharray="5 3.1" fill="none"/>
<path d="M209.8 1737.6v-11M209.8 1308.8v11M331.7 1737.6v-11M331.7 1308.8v11M453.5 1737.6v-11M453.5 1308.8v11M575.4 1737.6v-11M575.4 1308.8v11M697.3 1737.6v-11M697.3 1308.8v11M209.4 1737.6h11M773.6 1737.6h-11M209.4 1630.4h11M773.6 1630.4h-11M209.4 1523.2h11M773.6 1523.2h-11M209.4 1416.0h11M773.6 1416.0h-11M209.4 1308.8h11M773.6 1308.8h-11" stroke="#262626" stroke-width="4.4" fill="none"/>
<path d="M206.8 1308.8H776.2" stroke="#262626" stroke-width="3.6"/>
<path d="M206.8 1737.6H776.2" stroke="#262626" stroke-width="5.2"/>
<path d="M209.4 1307.0V1740.2M773.6 1307.0V1740.2" stroke="#262626" stroke-width="5.2"/>
<g clip-path="url(#clip20)" fill="#ff0000" stroke="#ff0000">
<path d="M229.4,1479.2 236.4,1472.2 250.4,1470.8 258.8,1468.0 267.2,1473.6 270.0,1490.3 267.2,1501.5 256.0,1505.7 247.6,1508.5 236.4,1504.3 229.4,1495.9Z" stroke-width="3" stroke-linejoin="round"/>
<path d="M272.8,1652.7 274.2,1621.9 279.8,1602.3 282.6,1582.7 289.6,1571.5 298.0,1567.3 306.4,1572.9 312.0,1582.7 310.6,1593.9 303.6,1602.3 298.0,1605.1 295.2,1616.3 292.4,1635.9 286.8,1655.5 279.8,1659.7Z" stroke-width="3" stroke-linejoin="round"/>
<path d="M295.2,1501.5 298.0,1490.3 305.0,1484.7 317.6,1487.5 326.0,1495.9 331.6,1501.5 337.2,1507.1 340.0,1518.3 351.2,1521.1 362.4,1523.9 370.8,1526.7 373.6,1512.7 379.2,1508.5 387.5,1509.9 393.1,1518.3 395.9,1523.9 404.3,1526.7 407.1,1535.1 409.9,1546.3 418.3,1540.7 426.7,1537.9 435.1,1540.7 440.7,1546.3 446.3,1551.9 454.7,1540.7 460.3,1535.1 468.7,1529.5 475.7,1518.3 482.7,1509.9 488.3,1514.1 491.1,1523.9 499.5,1526.7 506.5,1521.1 510.7,1507.1 516.3,1502.9 521.9,1498.7 527.5,1490.3 535.9,1490.3 540.1,1498.7 540.1,1512.7 541.5,1523.9 547.1,1512.7 547.1,1495.9 549.9,1479.2 547.1,1456.8 545.7,1431.6 548.5,1417.6 558.3,1416.2 563.9,1437.2 572.3,1437.2 573.7,1412.0 580.7,1405.0 591.9,1409.2 600.3,1414.8 603.1,1428.8 605.9,1434.4 608.7,1406.4 614.3,1398.0 619.9,1406.4 619.9,1431.6 622.7,1456.8 625.5,1473.6 628.3,1490.3 631.1,1501.5 636.7,1498.7 647.9,1495.9 650.7,1490.3 656.3,1479.2 664.7,1479.2 673.1,1479.2 674.5,1468.0 673.1,1434.4 667.5,1406.4 667.5,1389.6 675.9,1384.0 681.5,1392.4 681.5,1403.6 692.7,1403.6 695.5,1426.0 696.9,1445.6 696.9,1468.0 692.7,1484.7 689.9,1493.1 684.3,1493.1 675.9,1490.3 675.9,1509.9 675.9,1529.5 687.1,1535.1 692.7,1529.5 698.3,1529.5 702.5,1543.5 703.9,1565.9 701.1,1579.9 699.7,1593.9 703.9,1607.9 703.9,1630.3 698.3,1635.9 692.7,1633.1 689.9,1621.9 687.1,1602.3 687.1,1591.1 681.5,1582.7 675.9,1585.5 670.3,1593.9 667.5,1613.5 666.1,1621.9 661.9,1633.1 653.5,1630.3 650.7,1613.5 647.9,1599.5 645.1,1607.9 639.5,1612.1 632.5,1607.9 629.7,1596.7 632.5,1585.5 625.5,1577.1 619.9,1574.3 611.5,1579.9 605.9,1591.1 600.3,1596.7 591.9,1602.3 586.3,1607.9 577.9,1602.3 569.5,1593.9 566.7,1585.5 563.9,1577.1 559.7,1577.1 558.3,1591.1 555.5,1602.3 554.1,1619.1 549.9,1628.9 544.3,1627.5 540.1,1613.5 538.7,1602.3 533.1,1602.3 524.7,1599.5 521.9,1591.1 516.3,1582.7 510.7,1577.1 502.3,1579.9 496.7,1582.7 488.3,1582.7 485.5,1593.9 479.9,1596.7 468.7,1598.1 460.3,1596.7 451.9,1596.7 443.5,1595.3 435.1,1592.5 426.7,1591.1 423.9,1599.5 418.3,1607.9 409.9,1609.3 401.5,1605.1 395.9,1599.5 393.1,1607.9 387.5,1613.5 379.2,1619.1 376.4,1627.5 370.8,1635.9 362.4,1635.9 356.8,1627.5 356.8,1613.5 354.0,1602.3 351.2,1591.1 351.2,1579.9 352.6,1568.7 348.4,1560.3 340.0,1563.1 331.6,1568.7 323.2,1565.9 317.6,1557.5 317.6,1540.7 314.8,1529.5 309.2,1523.9 300.8,1521.1 296.6,1512.7Z" stroke-width="3" stroke-linejoin="round"/>
<path d="M713.7,1523.9 720.7,1514.1 726.3,1512.7 729.1,1501.5 734.7,1495.9 743.1,1497.3 745.9,1507.1 748.7,1523.9 751.5,1540.7 757.0,1537.9 765.4,1536.5 776.6,1537.9 780.8,1546.3 780.8,1563.1 771.0,1568.7 765.4,1579.9 762.6,1585.5 754.2,1585.5 748.7,1582.7 743.1,1591.1 740.3,1602.3 737.5,1619.1 736.1,1641.5 729.1,1647.1 723.5,1644.3 720.7,1630.3 715.1,1621.9 712.3,1607.9 712.3,1579.9 712.3,1551.9Z" stroke-width="3" stroke-linejoin="round"/>
<path d="M382.0,1493.1 384.7,1483.4 390.3,1480.6 395.9,1484.7 397.3,1495.9 393.1,1504.3 387.5,1508.5 383.4,1504.3Z" stroke-width="3" stroke-linejoin="round"/>
<circle cx="234.2" cy="1631.7" r="6.0" fill="none" stroke-width="4.2"/>
<circle cx="234.2" cy="1641.5" r="6.0" fill="none" stroke-width="4.2"/>
<circle cx="326.5" cy="1586.9" r="6.0" fill="none" stroke-width="4.2"/>
<circle cx="370.2" cy="1456.8" r="6.0" fill="none" stroke-width="4.2"/>
<circle cx="427.3" cy="1423.2" r="6.0" fill="none" stroke-width="4.2"/>
<circle cx="390.9" cy="1613.5" r="6.0" fill="none" stroke-width="4.2"/>
<circle cx="354.0" cy="1603.7" r="6.0" fill="none" stroke-width="4.2"/>
<circle cx="521.4" cy="1621.9" r="6.0" fill="none" stroke-width="4.2"/>
<circle cx="584.9" cy="1613.5" r="6.0" fill="none" stroke-width="4.2"/>
<circle cx="659.1" cy="1628.9" r="6.0" fill="none" stroke-width="4.2"/>
<circle cx="669.7" cy="1656.9" r="6.0" fill="none" stroke-width="4.2"/>
<circle cx="725.7" cy="1441.4" r="6.0" fill="none" stroke-width="4.2"/>
<circle cx="659.1" cy="1476.4" r="6.0" fill="none" stroke-width="4.2"/>
<circle cx="695.5" cy="1508.5" r="6.0" fill="none" stroke-width="4.2"/>
<circle cx="688.5" cy="1491.7" r="6.0" fill="none" stroke-width="4.2"/>
<circle cx="695.5" cy="1398.0" r="6.0" fill="none" stroke-width="4.2"/>
<circle cx="554.1" cy="1420.4" r="6.0" fill="none" stroke-width="4.2"/>
<circle cx="612.9" cy="1400.8" r="6.0" fill="none" stroke-width="4.2"/>
<circle cx="530.3" cy="1495.9" r="6.0" fill="none" stroke-width="4.2"/>
<circle cx="516.3" cy="1508.5" r="6.0" fill="none" stroke-width="4.2"/>
<circle cx="482.7" cy="1514.1" r="6.0" fill="none" stroke-width="4.2"/>
<circle cx="759.8" cy="1584.1" r="6.0" fill="none" stroke-width="4.2"/>
<circle cx="491.1" cy="1579.9" r="6.0" fill="none" stroke-width="4.2"/>
<circle cx="429.5" cy="1591.1" r="6.0" fill="none" stroke-width="4.2"/>
<circle cx="729.1" cy="1599.5" r="6.0" fill="none" stroke-width="4.2"/>
<circle cx="549.9" cy="1602.3" r="6.0" fill="none" stroke-width="4.2"/>
</g>
<text x="184.2" y="1758.6" font-size="57.5" fill="#262626" text-anchor="end">-30</text>
<text x="184.2" y="1651.4" font-size="57.5" fill="#262626" text-anchor="end">-15</text>
<text x="184.2" y="1544.2" font-size="57.5" fill="#262626" text-anchor="end">0</text>
<text x="184.2" y="1437.0" font-size="57.5" fill="#262626" text-anchor="end">15</text>
<text x="184.2" y="1329.8" font-size="57.5" fill="#262626" text-anchor="end">30</text>
<text x="209.8" y="1819.2" font-size="57.5" fill="#262626" text-anchor="middle">0</text>
<text x="331.7" y="1819.2" font-size="57.5" fill="#262626" text-anchor="middle">1</text>
<text x="453.5" y="1819.2" font-size="57.5" fill="#262626" text-anchor="middle">2</text>
<text x="575.4" y="1819.2" font-size="57.5" fill="#262626" text-anchor="middle">3</text>
<text x="697.3" y="1819.2" font-size="57.5" fill="#262626" text-anchor="middle">4</text>
<clipPath id="clip21"><rect x="942.0" y="1299.8" width="582.4000000000001" height="446.79999999999995"/></clipPath>
<path d="M1073.6 1308.8V1737.6 M1195.5 1308.8V1737.6 M1317.5 1308.8V1737.6 M1439.5 1308.8V1737.6 M951.0 1630.4H1515.4 M951.0 1523.2H1515.4 M951.0 1416.0H1515.4" stroke="#000" stroke-width="4.2" stroke-dasharray="5 3.1" fill="none"/>
<path d="M951.6 1737.6v-11M951.6 1308.8v11M1073.6 1737.6v-11M1073.6 1308.8v11M1195.5 1737.6v-11M1195.5 1308.8v11M1317.5 1737.6v-11M1317.5 1308.8v11M1439.5 1737.6v-11M1439.5 1308.8v11M951.0 1737.6h11M1515.4 1737.6h-11M951.0 1630.4h11M1515.4 1630.4h-11M951.0 1523.2h11M1515.4 1523.2h-11M951.0 1416.0h11M1515.4 1416.0h-11M951.0 1308.8h11M1515.4 1308.8h-11" stroke="#262626" stroke-width="4.4" fill="none"/>
<path d="M948.4 1308.8H1518.0" stroke="#262626" stroke-width="3.6"/>
<path d="M948.4 1737.6H1518.0" stroke="#262626" stroke-width="5.2"/>
<path d="M951.0 1307.0V1740.2M1515.4 1307.0V1740.2" stroke="#262626" stroke-width="5.2"/>
<g clip-path="url(#clip21)" fill="#ff0000" stroke="#ff0000">
<path d="M943.4,1473.6 947.6,1469.4 956.0,1469.4 970.0,1472.2 992.4,1473.6 1000.8,1476.4 1003.6,1484.7 1014.8,1490.3 1026.0,1493.1 1034.4,1498.7 1051.2,1502.9 1056.8,1498.7 1058.2,1470.8 1065.2,1466.6 1073.6,1472.2 1079.2,1476.4 1082.0,1507.1 1087.6,1508.5 1093.2,1495.9 1098.8,1488.9 1110.0,1486.1 1121.2,1479.2 1126.7,1479.2 1126.7,1462.4 1135.1,1454.0 1143.5,1458.2 1147.7,1479.2 1146.3,1495.9 1150.5,1535.1 1154.7,1543.5 1163.1,1523.9 1168.7,1518.3 1179.9,1523.9 1185.5,1537.9 1193.9,1540.7 1199.5,1537.9 1203.7,1526.7 1210.7,1521.1 1221.9,1515.5 1227.5,1512.7 1233.1,1518.3 1235.9,1535.1 1244.3,1532.3 1252.7,1526.7 1263.9,1523.9 1275.1,1523.9 1283.5,1526.7 1289.1,1518.3 1290.5,1490.3 1294.7,1484.7 1303.1,1487.5 1308.7,1495.9 1314.3,1495.9 1318.5,1490.3 1325.5,1493.1 1333.9,1493.1 1339.5,1498.7 1342.3,1507.1 1347.9,1490.3 1353.5,1487.5 1364.7,1484.7 1375.9,1480.6 1382.9,1484.7 1384.3,1518.3 1384.3,1551.9 1389.9,1551.9 1392.7,1540.7 1401.1,1535.1 1409.5,1537.9 1415.1,1549.1 1420.7,1557.5 1426.3,1549.1 1431.9,1540.7 1443.1,1540.7 1448.7,1529.5 1454.3,1515.5 1465.5,1509.9 1473.9,1498.7 1482.3,1495.9 1487.9,1501.5 1490.7,1518.3 1493.5,1532.3 1501.8,1535.1 1513.0,1529.5 1522.8,1532.3 1522.8,1568.7 1513.0,1574.3 1504.6,1582.7 1496.2,1585.5 1487.9,1582.7 1482.3,1588.3 1473.9,1593.9 1465.5,1591.1 1459.9,1588.3 1454.3,1599.5 1448.7,1605.1 1443.1,1607.9 1434.7,1613.5 1429.1,1624.7 1423.5,1635.9 1415.1,1635.9 1409.5,1633.1 1403.9,1638.7 1395.5,1635.9 1389.9,1630.3 1387.1,1647.1 1384.3,1658.3 1378.7,1661.1 1373.1,1655.5 1371.7,1635.9 1373.1,1607.9 1373.1,1596.7 1367.5,1591.1 1359.1,1591.1 1350.7,1596.7 1342.3,1602.3 1333.9,1610.7 1322.7,1613.5 1317.1,1621.9 1311.5,1635.9 1305.9,1638.7 1297.5,1634.5 1289.1,1633.1 1277.9,1633.1 1269.5,1624.7 1263.9,1610.7 1258.3,1605.1 1255.5,1596.7 1249.9,1585.5 1244.3,1591.1 1235.9,1596.7 1227.5,1602.3 1219.1,1602.3 1210.7,1596.7 1205.1,1591.1 1199.5,1602.3 1193.9,1607.9 1185.5,1610.7 1179.9,1607.9 1174.3,1602.3 1171.5,1593.9 1165.9,1596.7 1163.1,1607.9 1157.5,1616.3 1149.1,1616.3 1143.5,1607.9 1140.7,1596.7 1135.1,1593.9 1126.7,1591.1 1121.2,1588.3 1112.8,1591.1 1104.4,1591.1 1098.8,1585.5 1096.0,1568.7 1093.2,1554.7 1087.6,1557.5 1082.0,1563.1 1073.6,1565.9 1065.2,1563.1 1062.4,1551.9 1059.6,1540.7 1051.2,1540.7 1042.8,1537.9 1031.6,1532.3 1017.6,1529.5 1009.2,1523.9 998.0,1518.3 984.0,1515.5 972.8,1518.3 964.4,1509.9 953.2,1504.3 944.8,1498.7Z" stroke-width="3" stroke-linejoin="round"/>
<circle cx="976.2" cy="1465.2" r="6.0" fill="none" stroke-width="4.2"/>
<circle cx="976.2" cy="1521.1" r="6.0" fill="none" stroke-width="4.2"/>
<circle cx="1048.4" cy="1537.9" r="6.0" fill="none" stroke-width="4.2"/>
<circle cx="1073.0" cy="1437.2" r="6.0" fill="none" stroke-width="4.2"/>
<circle cx="1110.0" cy="1448.9" r="6.0" fill="none" stroke-width="4.2"/>
<circle cx="1141.3" cy="1410.0" r="6.0" fill="none" stroke-width="4.2"/>
<circle cx="1133.7" cy="1440.0" r="6.0" fill="none" stroke-width="4.2"/>
<circle cx="1132.3" cy="1448.4" r="6.0" fill="none" stroke-width="4.2"/>
<circle cx="1137.9" cy="1456.8" r="6.0" fill="none" stroke-width="4.2"/>
<circle cx="1158.9" cy="1468.0" r="6.0" fill="none" stroke-width="4.2"/>
<circle cx="1168.2" cy="1512.7" r="6.0" fill="none" stroke-width="4.2"/>
<circle cx="1211.3" cy="1501.0" r="6.0" fill="none" stroke-width="4.2"/>
<circle cx="1247.1" cy="1499.3" r="6.0" fill="none" stroke-width="4.2"/>
<circle cx="1263.4" cy="1500.1" r="6.0" fill="none" stroke-width="4.2"/>
<circle cx="1263.4" cy="1512.7" r="6.0" fill="none" stroke-width="4.2"/>
<circle cx="1324.9" cy="1417.6" r="6.0" fill="none" stroke-width="4.2"/>
<circle cx="1321.3" cy="1447.0" r="6.0" fill="none" stroke-width="4.2"/>
<circle cx="1326.9" cy="1461.8" r="6.0" fill="none" stroke-width="4.2"/>
<circle cx="1321.3" cy="1481.4" r="6.0" fill="none" stroke-width="4.2"/>
<circle cx="1355.7" cy="1454.0" r="6.0" fill="none" stroke-width="4.2"/>
<circle cx="1412.3" cy="1400.8" r="6.0" fill="none" stroke-width="4.2"/>
<circle cx="1459.3" cy="1487.5" r="6.0" fill="none" stroke-width="4.2"/>
<circle cx="1514.4" cy="1521.1" r="6.0" fill="none" stroke-width="4.2"/>
<circle cx="1297.5" cy="1488.9" r="6.0" fill="none" stroke-width="4.2"/>
<circle cx="1336.7" cy="1498.7" r="6.0" fill="none" stroke-width="4.2"/>
<circle cx="1242.9" cy="1593.9" r="6.0" fill="none" stroke-width="4.2"/>
<circle cx="1275.1" cy="1648.5" r="6.0" fill="none" stroke-width="4.2"/>
<circle cx="1189.7" cy="1655.5" r="6.0" fill="none" stroke-width="4.2"/>
<circle cx="1189.7" cy="1661.1" r="6.0" fill="none" stroke-width="4.2"/>
<circle cx="1073.0" cy="1579.9" r="6.0" fill="none" stroke-width="4.2"/>
<circle cx="1073.0" cy="1619.1" r="6.0" fill="none" stroke-width="4.2"/>
<circle cx="1073.0" cy="1624.7" r="6.0" fill="none" stroke-width="4.2"/>
<circle cx="1073.0" cy="1641.5" r="6.0" fill="none" stroke-width="4.2"/>
<circle cx="1073.0" cy="1647.1" r="6.0" fill="none" stroke-width="4.2"/>
<circle cx="1069.4" cy="1565.9" r="6.0" fill="none" stroke-width="4.2"/>
<circle cx="1308.7" cy="1634.5" r="6.0" fill="none" stroke-width="4.2"/>
<circle cx="1333.9" cy="1609.3" r="6.0" fill="none" stroke-width="4.2"/>
<circle cx="1359.1" cy="1592.5" r="6.0" fill="none" stroke-width="4.2"/>
<circle cx="1370.3" cy="1588.3" r="6.0" fill="none" stroke-width="4.2"/>
<circle cx="1403.9" cy="1635.9" r="6.0" fill="none" stroke-width="4.2"/>
<circle cx="1445.9" cy="1624.7" r="6.0" fill="none" stroke-width="4.2"/>
<circle cx="1455.7" cy="1617.7" r="6.0" fill="none" stroke-width="4.2"/>
<circle cx="1276.5" cy="1630.3" r="6.0" fill="none" stroke-width="4.2"/>
<circle cx="1291.9" cy="1630.3" r="6.0" fill="none" stroke-width="4.2"/>
<circle cx="1105.8" cy="1588.3" r="6.0" fill="none" stroke-width="4.2"/>
<circle cx="1139.3" cy="1595.3" r="6.0" fill="none" stroke-width="4.2"/>
<circle cx="1153.3" cy="1612.1" r="6.0" fill="none" stroke-width="4.2"/>
</g>
<text x="925.8" y="1758.6" font-size="57.5" fill="#262626" text-anchor="end">-30</text>
<text x="925.8" y="1651.4" font-size="57.5" fill="#262626" text-anchor="end">-15</text>
<text x="925.8" y="1544.2" font-size="57.5" fill="#262626" text-anchor="end">0</text>
<text x="925.8" y="1437.0" font-size="57.5" fill="#262626" text-anchor="end">15</text>
<text x="925.8" y="1329.8" font-size="57.5" fill="#262626" text-anchor="end">30</text>
<text x="951.6" y="1819.2" font-size="57.5" fill="#262626" text-anchor="middle">0</text>
<text x="1073.6" y="1819.2" font-size="57.5" fill="#262626" text-anchor="middle">1</text>
<text x="1195.5" y="1819.2" font-size="57.5" fill="#262626" text-anchor="middle">2</text>
<text x="1317.5" y="1819.2" font-size="57.5" fill="#262626" text-anchor="middle">3</text>
<text x="1439.5" y="1819.2" font-size="57.5" fill="#262626" text-anchor="middle">4</text>
<clipPath id="clip22"><rect x="1683.8" y="1299.8" width="584.2" height="446.79999999999995"/></clipPath>
<path d="M1815.3 1308.8V1737.6 M1937.9 1308.8V1737.6 M2060.6 1308.8V1737.6 M2183.3 1308.8V1737.6 M1692.8 1630.4H2259.0 M1692.8 1523.2H2259.0 M1692.8 1416.0H2259.0" stroke="#000" stroke-width="4.2" stroke-dasharray="5 3.1" fill="none"/>
<path d="M1692.6 1737.6v-11M1692.6 1308.8v11M1815.3 1737.6v-11M1815.3 1308.8v11M1937.9 1737.6v-11M1937.9 1308.8v11M2060.6 1737.6v-11M2060.6 1308.8v11M2183.3 1737.6v-11M2183.3 1308.8v11M1692.8 1737.6h11M2259.0 1737.6h-11M1692.8 1630.4h11M2259.0 1630.4h-11M1692.8 1523.2h11M2259.0 1523.2h-11M1692.8 1416.0h11M2259.0 1416.0h-11M1692.8 1308.8h11M2259.0 1308.8h-11" stroke="#262626" stroke-width="4.4" fill="none"/>
<path d="M1690.2 1308.8H2261.6" stroke="#262626" stroke-width="3.6"/>
<path d="M1690.2 1737.6H2261.6" stroke="#262626" stroke-width="5.2"/>
<path d="M1692.8 1307.0V1740.2M2259.0 1307.0V1740.2" stroke="#262626" stroke-width="5.2"/>
<g clip-path="url(#clip22)" fill="#ff0000" stroke="#ff0000">
<path d="M1685.4,1468.0 1689.6,1461.0 1696.6,1459.6 1702.2,1468.0 1703.6,1473.6 1712.0,1477.8 1723.2,1476.4 1737.2,1477.8 1751.2,1483.4 1765.2,1486.1 1773.6,1493.1 1787.6,1493.1 1801.6,1495.9 1807.2,1493.1 1810.0,1486.1 1817.0,1486.1 1821.2,1493.1 1824.0,1512.7 1826.8,1521.1 1840.8,1523.9 1849.2,1523.9 1850.6,1501.5 1854.8,1495.9 1863.2,1498.7 1867.4,1507.1 1868.7,1512.7 1877.1,1512.7 1885.5,1515.5 1891.1,1521.1 1892.5,1537.9 1902.3,1537.9 1913.5,1537.9 1924.7,1539.3 1930.3,1543.5 1935.9,1543.5 1941.5,1532.3 1945.7,1521.1 1952.7,1509.9 1963.9,1508.5 1972.3,1512.7 1976.5,1523.9 1976.5,1535.1 1986.3,1529.5 1997.5,1528.1 2005.9,1523.9 2011.5,1516.9 2019.9,1518.3 2024.1,1526.7 2031.1,1523.9 2032.5,1501.5 2033.9,1490.3 2042.3,1493.1 2053.5,1490.3 2059.1,1482.0 2060.5,1470.8 2070.3,1473.6 2074.5,1484.7 2075.9,1495.9 2080.1,1501.5 2081.5,1518.3 2087.1,1521.1 2091.3,1512.7 2092.7,1501.5 2101.1,1497.3 2109.5,1501.5 2115.1,1495.9 2124.9,1497.3 2127.7,1512.7 2129.1,1537.9 2134.7,1537.9 2143.1,1536.5 2154.3,1537.9 2159.9,1540.7 2165.5,1549.1 2171.1,1532.3 2173.9,1518.3 2182.3,1512.7 2193.5,1515.5 2201.9,1512.7 2203.3,1498.7 2210.3,1493.1 2221.5,1495.9 2229.9,1498.7 2232.7,1509.9 2234.1,1523.9 2236.8,1546.3 2243.8,1540.7 2252.2,1535.1 2257.8,1532.3 2264.8,1535.1 2264.8,1557.5 2257.8,1563.1 2252.2,1571.5 2246.6,1575.7 2235.5,1577.1 2227.1,1577.1 2215.9,1578.5 2207.5,1579.9 2204.7,1591.1 2199.1,1595.3 2190.7,1593.9 2185.1,1591.1 2176.7,1591.1 2171.1,1593.9 2165.5,1599.5 2157.1,1599.5 2148.7,1602.3 2140.3,1602.3 2131.9,1600.9 2123.5,1599.5 2119.3,1593.9 2117.9,1579.9 2117.9,1568.7 2109.5,1568.7 2103.9,1570.1 2095.5,1572.9 2089.9,1579.9 2088.5,1591.1 2081.5,1593.9 2073.1,1593.9 2064.7,1591.1 2059.1,1589.7 2047.9,1588.3 2039.5,1591.1 2031.1,1593.9 2019.9,1593.9 2011.5,1591.1 2003.1,1585.5 1998.9,1577.1 1997.5,1563.1 1991.9,1565.9 1986.3,1568.7 1980.7,1568.7 1975.1,1565.9 1972.3,1582.7 1963.9,1585.5 1955.5,1585.5 1947.1,1588.3 1935.9,1589.7 1930.3,1588.3 1924.7,1585.5 1916.3,1582.7 1907.9,1585.5 1905.1,1593.9 1896.7,1596.7 1888.3,1595.3 1879.9,1591.1 1871.5,1585.5 1867.4,1577.1 1860.4,1578.5 1852.0,1577.1 1843.6,1577.1 1839.4,1571.5 1838.0,1557.5 1829.6,1554.7 1821.2,1557.5 1815.6,1557.5 1807.2,1557.5 1804.4,1546.3 1800.2,1537.9 1798.8,1526.7 1787.6,1523.9 1776.4,1522.5 1768.0,1518.3 1759.6,1512.7 1751.2,1509.9 1740.0,1508.5 1731.6,1508.5 1728.8,1521.1 1723.2,1525.3 1714.8,1522.5 1712.0,1512.7 1706.4,1504.3 1698.0,1501.5 1692.4,1495.9 1686.8,1490.3 1685.4,1479.2Z" stroke-width="3" stroke-linejoin="round"/>
<path d="M1867.4,1482.0 1871.5,1475.0 1879.9,1475.0 1882.7,1484.7 1881.3,1498.7 1874.3,1504.3 1868.7,1498.7Z" stroke-width="3" stroke-linejoin="round"/>
<circle cx="1720.4" cy="1539.3" r="6.0" fill="none" stroke-width="4.2"/>
<circle cx="1912.1" cy="1483.4" r="6.0" fill="none" stroke-width="4.2"/>
<circle cx="1912.1" cy="1516.9" r="6.0" fill="none" stroke-width="4.2"/>
<circle cx="1900.9" cy="1535.1" r="6.0" fill="none" stroke-width="4.2"/>
<circle cx="2071.7" cy="1458.2" r="6.0" fill="none" stroke-width="4.2"/>
<circle cx="2073.1" cy="1476.4" r="6.0" fill="none" stroke-width="4.2"/>
<circle cx="2061.9" cy="1476.4" r="6.0" fill="none" stroke-width="4.2"/>
<circle cx="2039.5" cy="1486.1" r="6.0" fill="none" stroke-width="4.2"/>
<circle cx="2098.3" cy="1501.5" r="6.0" fill="none" stroke-width="4.2"/>
<circle cx="2105.3" cy="1568.7" r="6.0" fill="none" stroke-width="4.2"/>
<circle cx="2166.9" cy="1593.9" r="6.0" fill="none" stroke-width="4.2"/>
<circle cx="2183.7" cy="1588.3" r="6.0" fill="none" stroke-width="4.2"/>
<circle cx="2196.3" cy="1515.5" r="6.0" fill="none" stroke-width="4.2"/>
<circle cx="1815.6" cy="1491.7" r="6.0" fill="none" stroke-width="4.2"/>
<circle cx="1930.3" cy="1546.3" r="6.0" fill="none" stroke-width="4.2"/>
<circle cx="1693.8" cy="1468.0" r="6.0" fill="none" stroke-width="4.2"/>
</g>
<text x="1667.6" y="1758.6" font-size="57.5" fill="#262626" text-anchor="end">-30</text>
<text x="1667.6" y="1651.4" font-size="57.5" fill="#262626" text-anchor="end">-15</text>
<text x="1667.6" y="1544.2" font-size="57.5" fill="#262626" text-anchor="end">0</text>
<text x="1667.6" y="1437.0" font-size="57.5" fill="#262626" text-anchor="end">15</text>
<text x="1667.6" y="1329.8" font-size="57.5" fill="#262626" text-anchor="end">30</text>
<text x="1692.6" y="1819.2" font-size="57.5" fill="#262626" text-anchor="middle">0</text>
<text x="1815.3" y="1819.2" font-size="57.5" fill="#262626" text-anchor="middle">1</text>
<text x="1937.9" y="1819.2" font-size="57.5" fill="#262626" text-anchor="middle">2</text>
<text x="2060.6" y="1819.2" font-size="57.5" fill="#262626" text-anchor="middle">3</text>
<text x="2183.3" y="1819.2" font-size="57.5" fill="#262626" text-anchor="middle">4</text>
<rect x="1929.8" y="1321.8" width="313.0" height="86.2" fill="#fff" stroke="#262626" stroke-width="4.8"/>
<circle cx="2052.9" cy="1363.8" r="17.4" fill="none" stroke="#ff0000" stroke-width="4"/>
<text x="2157.7" y="1384.9" font-size="52.5" fill="#000">dU</text>
<text x="491.5" y="82.5" font-size="70.8" fill="#000" text-anchor="middle">Three(61.5%)</text>
<text x="1233.2" y="82.5" font-size="70.8" fill="#000" text-anchor="middle">Four(84.5%)</text>
<text x="1975.9" y="82.5" font-size="70.8" fill="#000" text-anchor="middle">Five(94.4%)</text>
<text transform="translate(69.5 331.6) rotate(-90)" x="0" y="0" font-size="65.5" fill="#262626" text-anchor="middle">Error [cm]</text>
<text transform="translate(69.5 926.3) rotate(-90)" x="0" y="0" font-size="65.5" fill="#262626" text-anchor="middle">Error [cm]</text>
<text transform="translate(69.5 1523.2) rotate(-90)" x="0" y="0" font-size="65.5" fill="#262626" text-anchor="middle">Error [cm]</text>
<text x="296.6" y="1917.6" font-size="65" fill="#262626">Epoch [10</text>
<text x="589.4" y="1886" font-size="47" fill="#262626">3</text>
<text x="635.4" y="1917.6" font-size="65" fill="#262626">s]</text>
<text x="1038.3" y="1917.6" font-size="65" fill="#262626">Epoch [10</text>
<text x="1331.1" y="1886" font-size="47" fill="#262626">3</text>
<text x="1377.1" y="1917.6" font-size="65" fill="#262626">s]</text>
<text x="1781.0" y="1917.6" font-size="65" fill="#262626">Epoch [10</text>
<text x="2073.8" y="1886" font-size="47" fill="#262626">3</text>
<text x="2119.8" y="1917.6" font-size="65" fill="#262626">s]</text>
</svg>
</body></html>
